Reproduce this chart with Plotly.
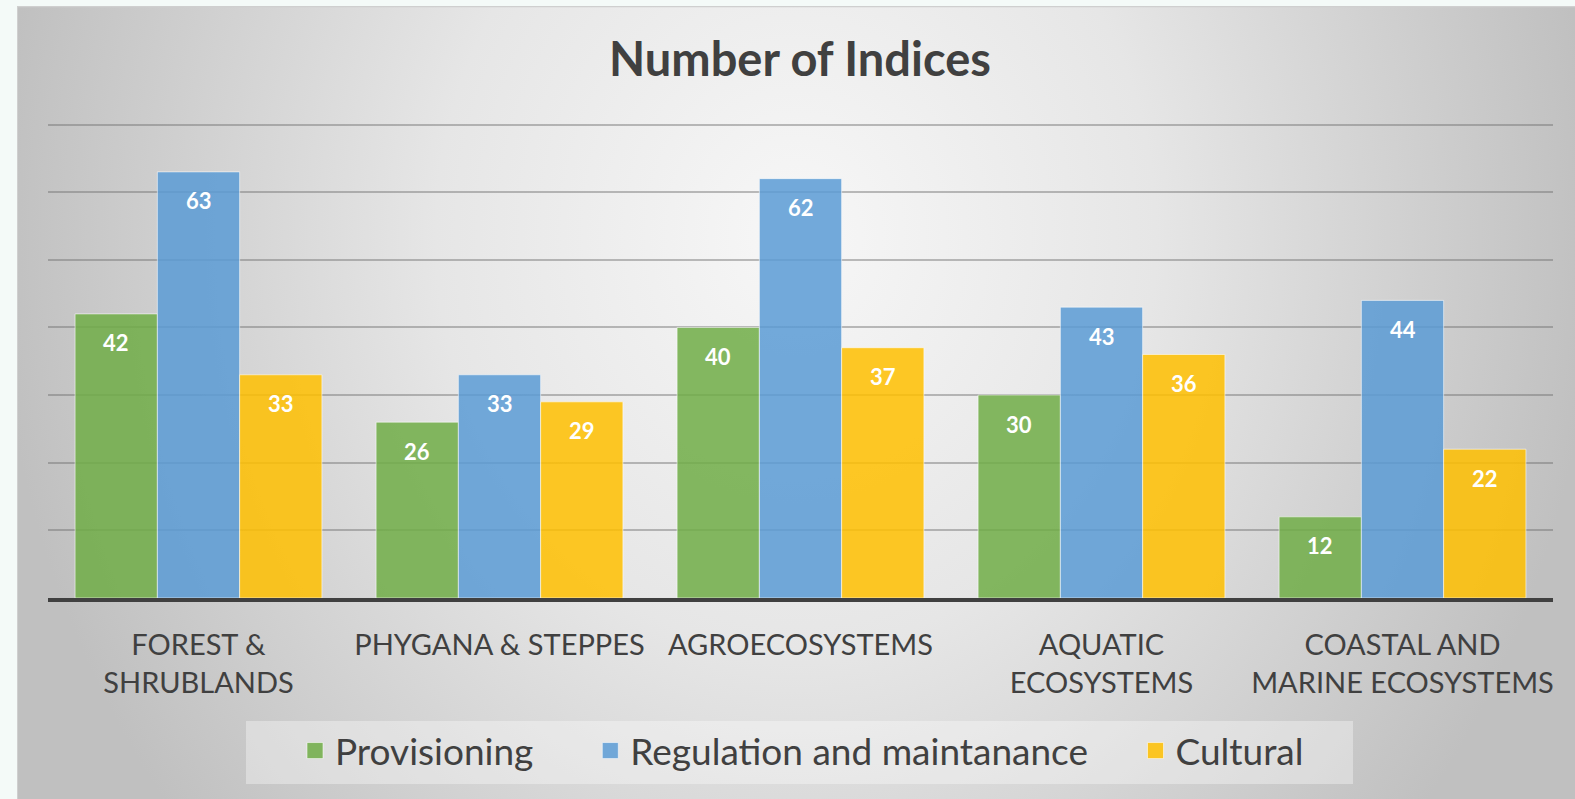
import plotly.graph_objects as go
import urllib.parse

# ---- data ----
categories = ["FOREST &<br>SHRUBLANDS", "PHYGANA & STEPPES", "AGROECOSYSTEMS",
              "AQUATIC<br>ECOSYSTEMS", "COASTAL AND<br>MARINE ECOSYSTEMS"]
series_names = ["Provisioning", "Regulation and maintanance", "Cultural"]
provisioning = [42, 26, 40, 30, 12]
regulation = [63, 33, 62, 43, 44]
cultural = [33, 29, 37, 36, 22]
series_values = [provisioning, regulation, cultural]
series_colors = ["rgba(112,173,71,0.85)", "rgba(91,155,213,0.85)", "rgba(255,192,0,0.85)"]

W, H = 1575, 799
ML, MR, MT, MB = 48, 22, 111, 201
plot_w = W - ML - MR
plot_h = H - MT - MB
BARGAP = 0.18
FONT = "Lato"
TXT = "#404040"

fig = go.Figure()
pads = ["\u00a0" * 5 + "\u2009", "\u00a0" * 4 + "\u2009", ""]
for name, vals, col in zip(series_names, series_values, series_colors):
    fig.add_trace(go.Bar(
        x=categories, y=vals, name=name, legendgroup=name, showlegend=False,
        marker=dict(color=col, line=dict(color="rgba(255,255,255,0.55)", width=1)),
        hovertemplate=name + ": %{y}<extra></extra>",
    ))
# legend entries (square swatches)
for name, pad, col in zip(series_names, pads, series_colors):
    fig.add_trace(go.Scatter(
        x=[None], y=[None], mode="markers", name=name + pad, legendgroup=name,
        marker=dict(symbol="square", size=18, color=col,
                    line=dict(color="rgba(255,255,255,0.55)", width=1)),
        hoverinfo="skip",
    ))

# data labels inside the top of each bar
w = (1 - BARGAP) / 3
annotations = []
for j, vals in enumerate(series_values):
    for i, v in enumerate(vals):
        annotations.append(dict(
            x=i + (j - 1) * w, y=v, xref="x", yref="y", text=f"<b>{v}</b>",
            showarrow=False, yshift=-29, yanchor="middle",
            font=dict(family=FONT, size=22, color="white"),
        ))

# background: radial gradient panel
fx0, fy0 = 17, 6
fw, fh = W - fx0, H - fy0
gcx, gcy = fw / 2, 230
svg = (
    f'<svg xmlns="http://www.w3.org/2000/svg" width="{fw}" height="{fh}" viewBox="0 0 {fw} {fh}" preserveAspectRatio="none">'
    f'<defs><radialGradient id="g" gradientUnits="userSpaceOnUse" cx="{gcx}" cy="{gcy}" r="800" '
    f'gradientTransform="translate({gcx} {gcy}) scale(1 1.15) translate({-gcx} {-gcy})">'
    '<stop offset="0" stop-color="#f7f7f7"/><stop offset="0.45" stop-color="#e6e6e6"/>'
    '<stop offset="1" stop-color="#c0c0c0"/></radialGradient></defs>'
    f'<rect x="0" y="0" width="{fw}" height="{fh}" fill="url(#g)"/>'
    f'<line x1="0" y1="0.5" x2="{fw}" y2="0.5" stroke="#cfcfcf" stroke-width="1.5"/>'
    f'<line x1="0.5" y1="0" x2="0.5" y2="{fh}" stroke="#cfcfcf" stroke-width="1"/>'
    '</svg>'
)
src = "data:image/svg+xml;charset=utf-8," + urllib.parse.quote(svg)

def px_x(px):
    return (px - ML) / plot_w

def px_y(py):
    return (H - MB - py) / plot_h

fig.add_layout_image(dict(
    source=src, xref="paper", yref="paper",
    x=px_x(fx0), y=px_y(fy0), sizex=fw / plot_w, sizey=fh / plot_h,
    xanchor="left", yanchor="top", sizing="stretch", layer="below",
))

# legend panel
fig.add_shape(type="rect", xref="paper", yref="paper",
              x0=px_x(246), x1=px_x(1353), y0=px_y(784), y1=px_y(721),
              fillcolor="rgba(255,255,255,0.35)", line=dict(width=0), layer="below")

fig.update_layout(
    width=W, height=H,
    margin=dict(l=ML, r=MR, t=MT, b=MB, pad=0),
    paper_bgcolor="#f4faf8",
    plot_bgcolor="rgba(0,0,0,0)",
    barmode="group", bargap=BARGAP, bargroupgap=0,
    title=dict(text="<b>Number of Indices</b>", x=800 / W, xanchor="center",
               y=1 - 60 / H, yanchor="middle",
               font=dict(family=FONT, size=47, color=TXT)),
    font=dict(family=FONT, color=TXT),
    legend=dict(orientation="h", x=px_x(295), xanchor="left", y=px_y(751), yanchor="middle",
                bgcolor="rgba(0,0,0,0)", font=dict(family=FONT, size=37, color=TXT),
                traceorder="normal", itemsizing="trace"),
    annotations=annotations,
    showlegend=True,
)
fig.update_xaxes(showline=True, linecolor="#404040", linewidth=4, showgrid=False,
                 ticks="", tickfont=dict(family=FONT, size=29, color=TXT),
                 ticklabelstandoff=18)
fig.update_yaxes(range=[0, 72], dtick=10, showgrid=True, gridcolor="rgba(110,110,110,0.45)",
                 gridwidth=2, showticklabels=False, zeroline=False, ticks="")

fig.write_html("out.html", config={"displayModeBar": False},
               post_script="document.body.style.margin='0';document.body.style.overflow='hidden';")
